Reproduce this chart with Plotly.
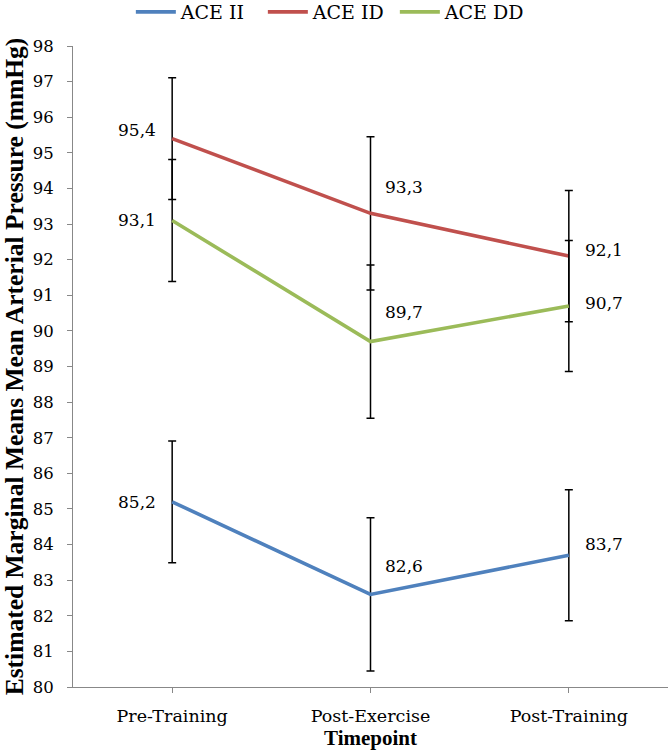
import plotly.graph_objects as go

categories = ["Pre-Training", "Post-Exercise", "Post-Training"]
series_names = ["ACE II", "ACE ID", "ACE DD"]
ace_ii = [85.2, 82.6, 83.7]
ace_id = [95.4, 93.3, 92.1]
ace_dd = [93.1, 89.7, 90.7]
std_err = [1.71, 2.15, 1.84]
y_ticks = list(range(80, 99))

colors = ["#4F81BD", "#C0504D", "#9BBB59"]
values = [ace_ii, ace_id, ace_dd]
SERIF = "DejaVu Serif"
BOLD = "Liberation Serif"

# label offsets (style only): per series, per category (xanchor, xshift, yshift)
label_style = [
    [("right", -14, 0), ("left", 12, 28), ("left", 14, 11)],
    [("right", -14, 9), ("left", 12, 26), ("left", 14, 6)],
    [("right", -14, 0), ("left", 12, 30), ("left", 14, 3)],
]

fig = go.Figure()
for name, vals, col in zip(series_names, values, colors):
    fig.add_trace(go.Scatter(
        x=categories, y=vals, name=name, mode="lines",
        line=dict(color=col, width=3.6),
        error_y=dict(type="data", array=std_err, visible=True,
                     color="black", thickness=1.5, width=4),
    ))

annotations = []
for si, vals in enumerate(values):
    for ci, v in enumerate(vals):
        xa, xs, ys = label_style[si][ci]
        annotations.append(dict(
            x=categories[ci], y=v, xref="x", yref="y",
            text=f"{v:.1f}".replace(".", ","), showarrow=False,
            xanchor=xa, yanchor="middle", xshift=xs, yshift=ys,
            font=dict(family=SERIF, size=17, color="black"),
        ))

fig.update_layout(
    width=670, height=756,
    margin=dict(l=73, r=2, t=46, b=69, autoexpand=False),
    paper_bgcolor="white", plot_bgcolor="white",
    font=dict(family=SERIF, size=17, color="black"),
    showlegend=True,
    legend=dict(orientation="h", x=0.43, xanchor="center", y=1.053, yanchor="middle",
                font=dict(family=SERIF, size=19, color="black"), itemwidth=40,
                entrywidth=77, tracegroupgap=0),
    annotations=annotations,
)
fig.update_xaxes(
    type="category", range=[-0.5, 2.5],
    showline=True, linecolor="#888888", linewidth=1,
    ticks="outside", ticklen=5, tickcolor="#888888",
    showgrid=False, zeroline=False,
    tickfont=dict(family=SERIF, size=17.5, color="black"),
    ticklabelstandoff=8,
    title=dict(text="<b>Timepoint</b>", font=dict(family=BOLD, size=21, color="black"), standoff=5),
)
fig.update_yaxes(
    range=[80, 98], tickvals=y_ticks,
    showline=True, linecolor="#888888", linewidth=1,
    ticks="outside", ticklen=5, tickcolor="#888888",
    showgrid=False, zeroline=False,
    tickfont=dict(family=SERIF, size=16.5, color="black"),
    ticklabelstandoff=10,
    title=dict(text="<b>Estimated Marginal Means Mean Arterial Pressure (mmHg)</b>",
               font=dict(family=BOLD, size=25.5, color="black"), standoff=9),
)

fig.write_html("out.html", config={"displayModeBar": False},
               post_script="document.body.style.margin='0';")
